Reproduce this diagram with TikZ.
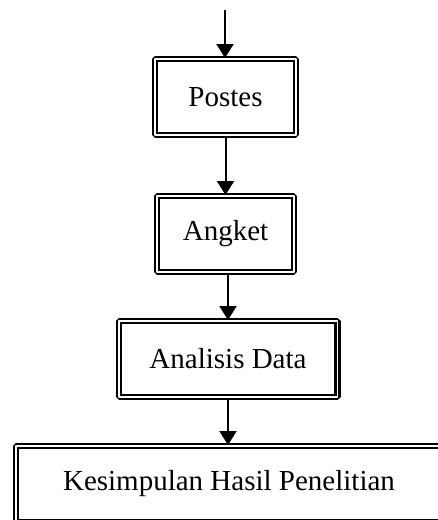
\documentclass[tikz,border=0pt]{standalone}
\usepackage{fontspec}
\setmainfont{Liberation Serif}
\usetikzlibrary{arrows.meta}

\tikzset{
  stepbox/.style={draw=black,line width=1.2pt,double,double distance=0.8pt,
    minimum height=37.8pt,inner sep=0pt,font=\fontsize{14.5}{17}\selectfont},
  flow/.style={black,line width=1pt,->},
}

\begin{document}
\begin{tikzpicture}[x=0.5pt,y=-0.5pt,>={Triangle[width=8.5pt,length=7pt]},line join=bevel,]
 \useasboundingbox (0,0) rectangle (438,520);
 \clip (0,0) rectangle (438,520);

 \coordinate (start) at (225,10);
 \node (node_postes) at (225.5,97) [stepbox,minimum width=70.3pt] {Postes};
 \node (node_angket) at (225.5,234) [stepbox,minimum width=68.3pt] {Angket};
 \node (node_analisis) at (228,359) [stepbox,minimum width=109.3pt] {Analisis Data};
 \node (node_kesimpulan) at (229,484) [stepbox,minimum width=212.8pt] {Kesimpulan Hasil Penelitian};

  \draw [flow] (start) -- (start |- node_postes.north);
  \draw [flow] (node_postes) -- (node_postes |- node_angket.north);
  \draw [flow] (node_angket.south -| node_analisis) -- (node_analisis.north);
  \draw [flow] (node_analisis) -- (node_analisis |- node_kesimpulan.north);
\end{tikzpicture}
\end{document}
